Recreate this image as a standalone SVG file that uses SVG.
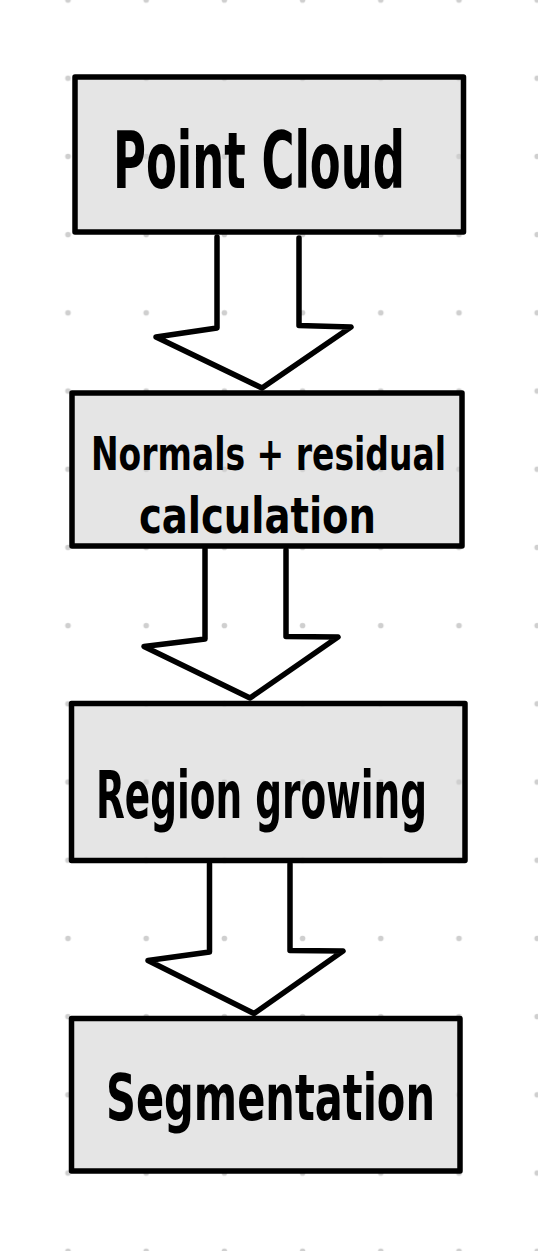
<svg xmlns="http://www.w3.org/2000/svg" width="538" height="1251" viewBox="0 0 538 1251">
<style>
.box{stroke:#000;stroke-width:5.5;stroke-linejoin:round}
.lbl{font-family:"DejaVu Sans Condensed","DejaVu Sans",sans-serif;font-stretch:condensed;font-weight:bold;fill:#000}
.arrow{fill:none;stroke:#000;stroke-width:5.5;stroke-linejoin:round;stroke-linecap:round}
</style>
<defs>
<pattern id="dots" patternUnits="userSpaceOnUse" x="28.9" y="-39.1" width="78.2" height="78.2">
<circle cx="39.1" cy="39.1" r="2.8" fill="#cfcfcf"/>
</pattern>
</defs>
<rect x="0" y="0" width="538" height="1251" fill="#ffffff"/>
<rect x="0" y="0" width="538" height="1251" fill="url(#dots)"/>
<g id="node-point-cloud">
<rect x="75" y="77" width="388.5" height="155" fill="#e5e5e5"/>
<rect x="75" y="77" width="388.5" height="155" fill="url(#dots)"/>
<rect class="box" x="75" y="77" width="388.5" height="155" fill="none"/>
<text class="lbl" transform="translate(113,188) scale(1,1.55)" x="0" y="0" font-size="50" textLength="292" lengthAdjust="spacingAndGlyphs">Point Cloud</text>
</g>
<g id="node-normals">
<rect x="72" y="393" width="390" height="153" fill="#e5e5e5"/>
<rect x="72" y="393" width="390" height="153" fill="url(#dots)"/>
<rect class="box" x="72" y="393" width="390" height="153" fill="none"/>
<text class="lbl" transform="translate(91,470) scale(1,1.3)" x="0" y="0" font-size="36" textLength="355" lengthAdjust="spacingAndGlyphs">Normals + residual</text>
<text class="lbl" transform="translate(139,533) scale(1,1.2)" x="0" y="0" font-size="42" textLength="237" lengthAdjust="spacingAndGlyphs">calculation</text>
</g>
<g id="node-region-growing">
<rect x="71.5" y="703.5" width="393.5" height="157" fill="#e5e5e5"/>
<rect x="71.5" y="703.5" width="393.5" height="157" fill="url(#dots)"/>
<rect class="box" x="71.5" y="703.5" width="393.5" height="157" fill="none"/>
<text class="lbl" transform="translate(96,818) scale(1,1.6)" x="0" y="0" font-size="41" textLength="331" lengthAdjust="spacingAndGlyphs">Region growing</text>
</g>
<g id="node-segmentation">
<rect x="71.5" y="1018.5" width="388.5" height="152.5" fill="#e5e5e5"/>
<rect x="71.5" y="1018.5" width="388.5" height="152.5" fill="url(#dots)"/>
<rect class="box" x="71.5" y="1018.5" width="388.5" height="152.5" fill="none"/>
<text class="lbl" transform="translate(106,1120) scale(1,1.4)" x="0" y="0" font-size="46" textLength="329" lengthAdjust="spacingAndGlyphs">Segmentation</text>
</g>
<g id="connectors">
<path class="arrow" d="M217,237 L217,328 L156,337 L262,388 L351,327 L299,325.5 L299,238"/>
<path class="arrow" d="M205,549 L205,639 L144,646.5 L250,698 L338,637 L286,636.5 L286,550"/>
<path class="arrow" d="M209.5,864 L209.5,952 L148,960.5 L254,1013.5 L343,951 L290,950.5 L290,864"/>
</g>
</svg>
